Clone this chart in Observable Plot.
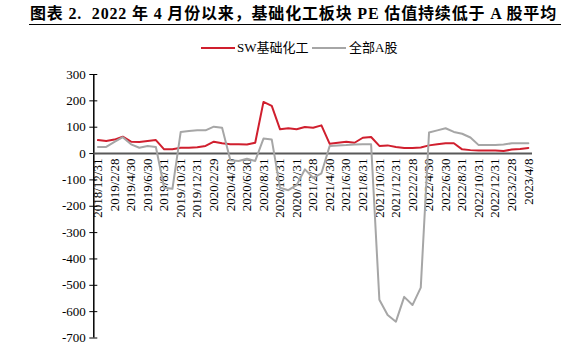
<!DOCTYPE html>
<html>
<head>
<meta charset="utf-8">
<script src="https://cdn.jsdelivr.net/npm/d3@7"></script>
<script src="https://cdn.jsdelivr.net/npm/@observablehq/plot@0.6"></script>
<style>
  html, body { margin: 0; padding: 0; background: #fff; }
  #wrap { position: relative; width: 563px; height: 354px; overflow: hidden; }
  #title { position: absolute; left: 30px; top: 5px; font-family: "Liberation Serif", "Noto Sans CJK SC", serif; font-weight: bold; font-size: 16px; white-space: nowrap; color: #000; line-height: 18px; }
  #rule { position: absolute; left: 29px; top: 24px; width: 532px; height: 0; border-top: 1.5px solid #000; }
  #legend { position: absolute; left: 0; top: 40px; width: 563px; height: 16px; font-family: "Liberation Serif", "Noto Sans CJK SC", serif; font-size: 13px; color: #000; }
  .sw { position: absolute; top: 7px; width: 34px; height: 0; border-top: 2px solid #d01f2e; }
  .lab { position: absolute; top: 0; line-height: 16px; white-space: nowrap; }
  #chart { position: absolute; left: 0; top: 60px; }
</style>
</head>
<body>
<div id="wrap">
  <div id="title">图表 2.&nbsp;&nbsp;2022 年 4 月份以来，基础化工板块 PE 估值持续低于 A 股平均</div>
  <div id="rule"></div>
  <div id="legend">
    <div class="sw" style="left:201px;"></div><div class="lab" id="l1" style="left:237px;"></div>
    <div class="sw" style="left:312px;border-color:#a6a6a6;"></div><div class="lab" id="l2" style="left:349px;"></div>
  </div>
  <div id="chart"></div>
</div>
<script>
const seriesNames = ["SW基础化工", "全部A股"];
const dates = ["2018/12/31","2019/1/31","2019/2/28","2019/3/31","2019/4/30","2019/5/31","2019/6/30","2019/7/31","2019/8/31","2019/9/30","2019/10/31","2019/11/30","2019/12/31","2020/1/31","2020/2/29","2020/3/31","2020/4/30","2020/5/31","2020/6/30","2020/7/31","2020/8/31","2020/9/30","2020/10/31","2020/11/30","2020/12/31","2021/1/31","2021/2/28","2021/3/31","2021/4/30","2021/5/31","2021/6/30","2021/7/31","2021/8/31","2021/9/30","2021/10/31","2021/11/30","2021/12/31","2022/1/31","2022/2/28","2022/3/31","2022/4/30","2022/5/31","2022/6/30","2022/7/31","2022/8/31","2022/9/30","2022/10/31","2022/11/30","2022/12/31","2023/1/31","2023/2/28","2023/3/31","2023/4/8"];
const swValues = [51,48,53,64,45,44,48,51,16,16,22,22,24,29,45,39,35,35,34,41,196,181,92,96,92,101,98,107,37,41,45,41,60,63,29,31,25,21,21,23,31,35,39,39,16,13,12,12,12,10,15,17,21];
const allAValues = [25,25,44,62,35,22,29,25,-130,-134,82,86,88,88,102,98,-25,-28,-20,-28,57,53,-130,-139,-120,-60,-92,-75,29,31,32,34,35,35,-555,-613,-638,-544,-575,-509,80,88,96,82,75,61,32,32,32,34,39,39,39];
const yTicks = [300,200,100,0,-100,-200,-300,-400,-500,-600,-700];

document.getElementById("l1").textContent = seriesNames[0];
document.getElementById("l2").textContent = seriesNames[1];

const rows = dates.map((d, i) => ({i, d, sw: swValues[i], all: allAValues[i]}));
const labelRows = rows.filter(r => r.i % 2 === 0);

const chart = Plot.plot({
  width: 563,
  height: 294,
  marginTop: 14,
  marginBottom: 16.5,
  marginLeft: 93.3,
  marginRight: 31,
  x: {domain: [-0.5, dates.length - 0.5], axis: null},
  y: {domain: [-700, 300], axis: null},
  style: {fontFamily: "Liberation Serif", fontSize: "13px", color: "#000", background: "#fff"},
  marks: [
    Plot.axisY({ticks: yTicks, tickFormat: d => String(d), tickSize: 8, dx: 4, tickPadding: 4, fontSize: 13, stroke: "#000"}),
    Plot.ruleX([-0.5], {stroke: "#000", strokeWidth: 1.5}),
    Plot.ruleY([0], {stroke: "#595959", strokeWidth: 2}),
    Plot.text(labelRows, {x: "i", y: () => 0, text: "d", rotate: -90, textAnchor: "end", dy: 5, fontSize: 13, fill: "#000"}),
    Plot.line(rows, {x: "i", y: "sw", stroke: "#d01f2e", strokeWidth: 2}),
    Plot.line(rows, {x: "i", y: "all", stroke: "#a6a6a6", strokeWidth: 2})
  ]
});
document.getElementById("chart").appendChild(chart);

// stretch title to reference width
const t = document.getElementById("title");
const w = t.getBoundingClientRect().width;
const n = t.textContent.length;
t.style.letterSpacing = ((527 - w) / n) + "px";
</script>
</body>
</html>
